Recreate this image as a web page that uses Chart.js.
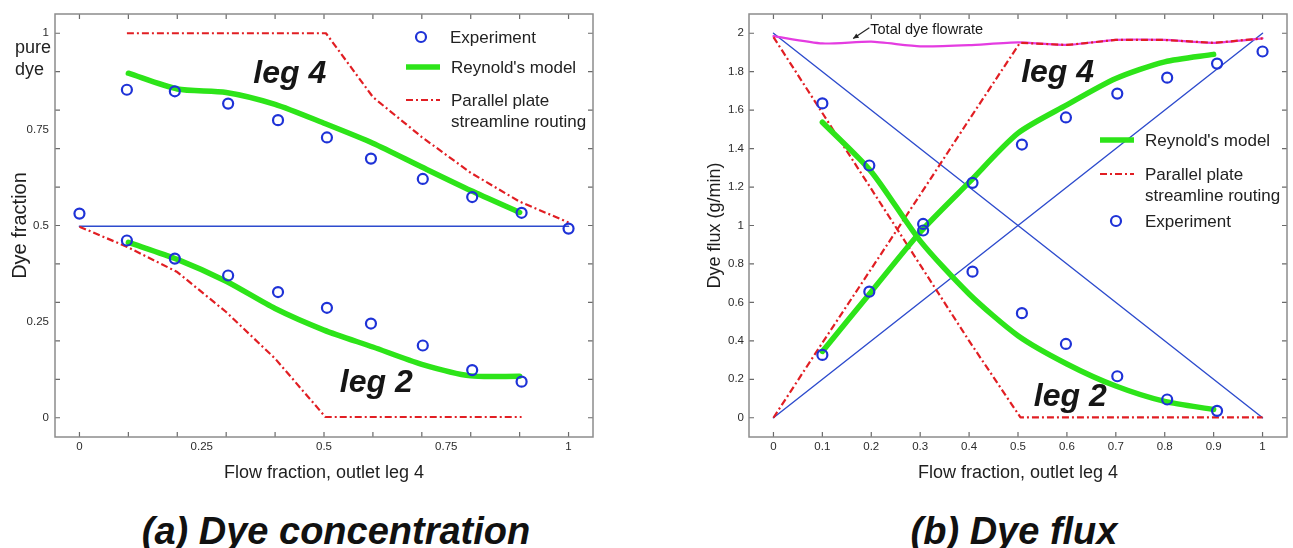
<!DOCTYPE html>
<html>
<head>
<meta charset="utf-8">
<script src="https://cdn.jsdelivr.net/npm/chart.js@4.4.0/dist/chart.umd.min.js"></script>
<style>
    html, body { margin: 0; padding: 0; background: #fff; width: 1293px; height: 548px; overflow: hidden; }
    canvas { position: absolute; top: 0; }
    .panel_title {
        position: absolute; top: 512px; width: 400px; text-align: center; white-space: nowrap;
        font: italic bold 38px "Liberation Sans", Arial, sans-serif; line-height: 38px; color: #111;
    }
</style>
</head>
<body>
<canvas id="dye_conc" width="640" height="490" style="left:0"></canvas>
<canvas id="dye_flux" width="603" height="490" style="left:690px"></canvas>
<div class="panel_title" style="left:136px">(a) Dye concentration</div>
<div class="panel_title" style="left:814px">(b) Dye flux</div>
<script>
/* ---- (a) dye concentration ---- */
const concExpX4 = [0.097, 0.195, 0.304, 0.406, 0.506, 0.596, 0.702, 0.803, 0.904, 1.0];
const concExp4  = [0.853, 0.849, 0.817, 0.774, 0.729, 0.674, 0.621, 0.574, 0.533, 0.492];
const concExpX2 = [0, 0.097, 0.195, 0.304, 0.406, 0.506, 0.596, 0.702, 0.803, 0.904];
const concExp2  = [0.531, 0.461, 0.414, 0.370, 0.327, 0.286, 0.245, 0.188, 0.124, 0.094];

const modelX = [0.1, 0.2, 0.3, 0.4, 0.5, 0.6, 0.7, 0.8, 0.9];
const concModel4 = [0.896, 0.855, 0.846, 0.815, 0.766, 0.714, 0.652, 0.591, 0.534];
const concModel2 = [0.456, 0.412, 0.355, 0.284, 0.228, 0.184, 0.139, 0.109, 0.108];

const concPlateX4 = [0.097, 0.504, 0.6, 0.7, 0.8, 0.9, 1.0];
const concPlate4  = [1, 1, 0.834, 0.730, 0.637, 0.562, 0.508];
const concPlateX2 = [0, 0.1, 0.2, 0.3, 0.4, 0.503, 0.904];
const concPlate2  = [0.497, 0.443, 0.379, 0.275, 0.154, 0.002, 0.002];

const concMixX = [0, 1];
const concMix  = [0.498, 0.498];

const concTickLabels = [0, 0.25, 0.5, 0.75, 1];
const concTickMarks  = [0, 0.1, 0.2, 0.3, 0.4, 0.5, 0.6, 0.7, 0.8, 0.9, 1];

/* ---- (b) dye flux ---- */
const fluxExpX4 = [0.100, 0.196, 0.306, 0.407, 0.508, 0.598, 0.703, 0.805, 0.907, 1.0];
const fluxExp4  = [0.327, 0.656, 0.974, 1.222, 1.421, 1.562, 1.686, 1.769, 1.842, 1.905];
const fluxExpX2 = [0.100, 0.196, 0.306, 0.407, 0.508, 0.598, 0.703, 0.805, 0.907];
const fluxExp2  = [1.635, 1.312, 1.008, 0.760, 0.544, 0.384, 0.216, 0.095, 0.036];

const fluxModel4 = [0.345, 0.656, 0.965, 1.224, 1.480, 1.627, 1.764, 1.851, 1.890];
const fluxModel2 = [1.537, 1.280, 0.920, 0.644, 0.427, 0.280, 0.165, 0.085, 0.043];

const fluxPlateX4 = [0, 0.1, 0.2, 0.3, 0.4, 0.504, 0.6, 0.7, 0.8, 0.9, 1.0];
const fluxPlate4  = [0, 0.39, 0.775, 1.16, 1.55, 1.950, 1.939, 1.965, 1.965, 1.950, 1.973];
const fluxPlateX2 = [0, 0.1, 0.2, 0.3, 0.4, 0.505, 1.0];
const fluxPlate2  = [1.98, 1.585, 1.19, 0.795, 0.40, 0.002, 0.002];

const fluxTotalX = [0, 0.1, 0.2, 0.3, 0.4, 0.5, 0.6, 0.7, 0.8, 0.9, 1.0];
const fluxTotal  = [1.985, 1.947, 1.956, 1.932, 1.938, 1.952, 1.939, 1.965, 1.965, 1.950, 1.973];

const fluxLineX = [0, 1];
const fluxLine4 = [0, 2];
const fluxLine2 = [2, 0];

const fluxXTicks = [0, 0.1, 0.2, 0.3, 0.4, 0.5, 0.6, 0.7, 0.8, 0.9, 1];
const fluxYTicks = [0, 0.2, 0.4, 0.6, 0.8, 1, 1.2, 1.4, 1.6, 1.8, 2];

const FONT = '"Liberation Sans", Arial, sans-serif';
Chart.defaults.font.family = FONT;
Chart.defaults.color = '#333';

const BLUE_DOT = 'rgb(30, 50, 215)';
const BLUE_LINE = 'rgb(45, 75, 205)';
const GREEN = 'rgb(45, 228, 25)';
const RED = 'rgb(225, 30, 35)';
const MAGENTA = 'rgb(228, 60, 225)';
const RED_DASH = [7, 3, 2, 3];

function pts(xs, ys) { return xs.map((x, i) => ({x: x, y: ys[i]})); }

function circles(xs, ys) {
    return { data: pts(xs, ys), showLine: false, pointRadius: 5, pointBorderWidth: 2.2,
             pointBorderColor: BLUE_DOT, pointBackgroundColor: 'rgba(0,0,0,0)', borderColor: BLUE_DOT };
}
function line(xs, ys, color, width, dash, smooth) {
    return { data: pts(xs, ys), showLine: true, pointRadius: 0, borderColor: color,
             borderWidth: width, borderDash: dash || [], tension: smooth || 0,
             borderJoinStyle: 'round', borderCapStyle: dash ? 'butt' : 'round' };
}

/* frame + inward tick marks, like the original plot */
const frameTicks = {
    id: 'frameTicks',
    beforeDatasetsDraw(chart, args, opts) {
        const {ctx, chartArea: a, scales: {x, y}} = chart;
        ctx.save();
        ctx.strokeStyle = '#6a6a6a';
        ctx.lineWidth = 1.2;
        ctx.beginPath();
        opts.xMarks.forEach(v => {
            const px = x.getPixelForValue(v);
            ctx.moveTo(px, a.top); ctx.lineTo(px, a.top + 5);
            ctx.moveTo(px, a.bottom); ctx.lineTo(px, a.bottom - 5);
        });
        opts.yMarks.forEach(v => {
            const py = y.getPixelForValue(v);
            ctx.moveTo(a.left, py); ctx.lineTo(a.left + 5, py);
            ctx.moveTo(a.right, py); ctx.lineTo(a.right - 5, py);
        });
        ctx.stroke();
        ctx.strokeStyle = '#8c8c8c';
        ctx.lineWidth = 1.5;
        ctx.strokeRect(a.left, a.top, a.right - a.left, a.bottom - a.top);
        ctx.restore();
    }
};

/* legend drawn inside the plot, samples taken from the datasets */
const innerLegend = {
    id: 'innerLegend',
    afterDatasetsDraw(chart, args, opts) {
        const ctx = chart.ctx;
        ctx.save();
        opts.items.forEach(it => {
            const ds = chart.data.datasets[it.ds];
            if (ds.showLine) {
                ctx.strokeStyle = ds.borderColor;
                ctx.lineWidth = ds.borderWidth;
                ctx.setLineDash(ds.borderDash);
                ctx.lineCap = 'butt';
                ctx.beginPath(); ctx.moveTo(it.x, it.y); ctx.lineTo(it.x + 34, it.y); ctx.stroke();
                ctx.setLineDash([]);
            } else {
                ctx.strokeStyle = ds.pointBorderColor;
                ctx.lineWidth = ds.pointBorderWidth;
                ctx.beginPath(); ctx.arc(it.x + 16, it.y, ds.pointRadius, 0, Math.PI * 2); ctx.stroke();
            }
            ctx.fillStyle = '#222';
            ctx.font = '17px ' + FONT;
            ctx.textBaseline = 'middle';
            ctx.textAlign = 'left';
            it.text.forEach((t, i) => ctx.fillText(t, it.x + 45, it.y + 1 + i * 21));
        });
        ctx.restore();
    }
};

/* "leg 4" / "leg 2" labels and other notes, placed in data coordinates */
const notes = {
    id: 'notes',
    afterDatasetsDraw(chart, args, opts) {
        const {ctx, scales: {x, y}} = chart;
        ctx.save();
        ctx.textBaseline = 'middle';
        (opts.labels || []).forEach(l => {
            ctx.font = l.font;
            ctx.fillStyle = '#161616';
            ctx.textAlign = l.align || 'center';
            ctx.fillText(l.text, x.getPixelForValue(l.x), y.getPixelForValue(l.y));
        });
        (opts.arrows || []).forEach(ar => {
            const x0 = x.getPixelForValue(ar.from[0]), y0 = y.getPixelForValue(ar.from[1]);
            const x1 = x.getPixelForValue(ar.to[0]), y1 = y.getPixelForValue(ar.to[1]);
            const ang = Math.atan2(y1 - y0, x1 - x0);
            ctx.strokeStyle = '#222'; ctx.fillStyle = '#222'; ctx.lineWidth = 1.2;
            ctx.beginPath(); ctx.moveTo(x0, y0); ctx.lineTo(x1, y1); ctx.stroke();
            ctx.beginPath();
            ctx.moveTo(x1, y1);
            ctx.lineTo(x1 - 6 * Math.cos(ang - 0.45), y1 - 6 * Math.sin(ang - 0.45));
            ctx.lineTo(x1 - 6 * Math.cos(ang + 0.45), y1 - 6 * Math.sin(ang + 0.45));
            ctx.closePath(); ctx.fill();
        });
        if (opts.pureDye) {
            const py = y.getPixelForValue(1);
            ctx.font = '18px ' + FONT;
            ctx.fillStyle = '#222';
            ctx.textAlign = 'left';
            ctx.fillText('pure', 15, py + 15);
            ctx.fillText('dye', 15, py + 37);
        }
        ctx.restore();
    }
};

function axis(min, max, tickValues, titleText, titleSize, titlePad, size, labelPad) {
    return {
        type: 'linear', min: min, max: max,
        grid: { display: false, drawTicks: false },
        border: { display: false },
        afterBuildTicks: s => { s.ticks = tickValues.map(v => ({value: v})); },
        afterFit: s => { if (s.isHorizontal()) s.height = size; else s.width = size; },
        ticks: { autoSkip: false, maxRotation: 0, padding: labelPad, color: '#2c2c2c',
                 font: { size: 11.5 }, callback: v => String(v) },
        title: { display: true, text: titleText, color: '#1e1e1e', font: { size: titleSize },
                 padding: titlePad }
    };
}

const LEG_FONT = 'italic bold 32px ' + FONT;

new Chart(document.getElementById('dye_conc'), {
    type: 'scatter',
    data: {
        datasets: [
            circles(concExpX4, concExp4),
            circles(concExpX2, concExp2),
            line(modelX, concModel4, GREEN, 5.5, null, 0.25),
            line(modelX, concModel2, GREEN, 5.5, null, 0.25),
            line(concPlateX4, concPlate4, RED, 2.2, RED_DASH),
            line(concPlateX2, concPlate2, RED, 2.2, RED_DASH),
            line(concMixX, concMix, BLUE_LINE, 1.6)
        ]
    },
    options: {
        responsive: false, animation: false, events: [],
        layout: { autoPadding: false, padding: { left: 0, top: 14, right: 47, bottom: 0 } },
        scales: {
            x: axis(-0.05, 1.05, concTickLabels, 'Flow fraction, outlet leg 4', 18, { top: 0, bottom: 6 }, 53, 3),
            y: axis(-0.05, 1.05, concTickLabels, 'Dye fraction', 20, { top: 8, bottom: 0 }, 55, 6)
        },
        plugins: {
            legend: { display: false },
            tooltip: { enabled: false },
            frameTicks: { xMarks: concTickMarks, yMarks: concTickMarks },
            innerLegend: { items: [
                { ds: 0, x: 405, y: 37, text: ['Experiment'] },
                { ds: 2, x: 406, y: 67, text: ["Reynold's model"] },
                { ds: 4, x: 406, y: 100, text: ['Parallel plate', 'streamline routing'] }
            ] },
            notes: {
                pureDye: true,
                labels: [
                    { text: 'leg 4', x: 0.43, y: 0.893, font: LEG_FONT },
                    { text: 'leg 2', x: 0.607, y: 0.09, font: LEG_FONT }
                ]
            }
        }
    },
    plugins: [frameTicks, innerLegend, notes]
});

new Chart(document.getElementById('dye_flux'), {
    type: 'scatter',
    data: {
        datasets: [
            circles(fluxExpX4, fluxExp4),
            circles(fluxExpX2, fluxExp2),
            line(modelX, fluxModel4, GREEN, 5.5, null, 0.25),
            line(modelX, fluxModel2, GREEN, 5.5, null, 0.25),
            line(fluxPlateX4, fluxPlate4, RED, 2.2, RED_DASH),
            line(fluxPlateX2, fluxPlate2, RED, 2.2, RED_DASH),
            line(fluxTotalX, fluxTotal, MAGENTA, 2.2, null, 0.2),
            line(fluxLineX, fluxLine4, BLUE_LINE, 1.4),
            line(fluxLineX, fluxLine2, BLUE_LINE, 1.4)
        ]
    },
    options: {
        responsive: false, animation: false, events: [],
        layout: { autoPadding: false, padding: { left: 0, top: 14, right: 6, bottom: 0 } },
        scales: {
            x: axis(-0.05, 1.05, fluxXTicks, 'Flow fraction, outlet leg 4', 18, { top: 0, bottom: 6 }, 53, 3),
            y: axis(-0.1, 2.1, fluxYTicks, 'Dye flux (g/min)', 18, { top: 14, bottom: 0 }, 59, 5)
        },
        plugins: {
            legend: { display: false },
            tooltip: { enabled: false },
            frameTicks: { xMarks: fluxXTicks, yMarks: fluxYTicks },
            innerLegend: { items: [
                { ds: 2, x: 410, y: 140, text: ["Reynold's model"] },
                { ds: 4, x: 410, y: 174, text: ['Parallel plate', 'streamline routing'] },
                { ds: 0, x: 410, y: 221, text: ['Experiment'] }
            ] },
            notes: {
                labels: [
                    { text: 'leg 4', x: 0.581, y: 1.79, font: LEG_FONT },
                    { text: 'leg 2', x: 0.607, y: 0.106, font: LEG_FONT },
                    { text: 'Total dye flowrate', x: 0.198, y: 2.016, font: '14.5px ' + FONT, align: 'left' }
                ],
                arrows: [ { from: [0.196, 2.028], to: [0.163, 1.972] } ]
            }
        }
    },
    plugins: [frameTicks, innerLegend, notes]
});
</script>
</body>
</html>
